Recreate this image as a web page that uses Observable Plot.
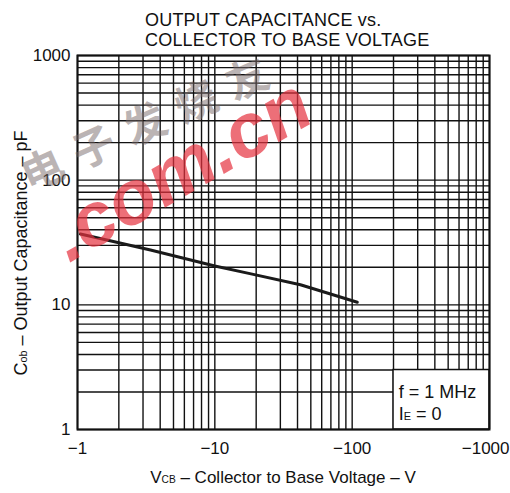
<!DOCTYPE html>
<html>
<head>
<meta charset="utf-8">
<script src="https://cdn.jsdelivr.net/npm/d3@7"></script>
<script src="https://cdn.jsdelivr.net/npm/@observablehq/plot@0.6"></script>
<style>
  html, body { margin: 0; padding: 0; background: #fff; }
  #wrap { position: relative; width: 510px; height: 493px; overflow: hidden; font-family: "Liberation Sans", Arial, sans-serif; color: #111; }
  #chart { position: absolute; left: 0; top: 0; }
  .title { position: absolute; left: 145px; top: 10px; font-size: 18px; line-height: 20px; white-space: nowrap; letter-spacing: 0.2px; }
  .xlabel { position: absolute; left: 83px; width: 400px; top: 468px; text-align: center; font-size: 17px; line-height: 20px; white-space: nowrap; }
  .ylabel { position: absolute; left: -129px; width: 300px; top: 243px; text-align: center; font-size: 18px; line-height: 20px; white-space: nowrap; transform: rotate(-90deg); transform-origin: 150px 10px; }
  .sm { font-size: 0.6em; }
  .wm { position: absolute; white-space: nowrap; pointer-events: none; transform-origin: center center; }
  .wm1 { left: 0px; top: 88px; width: 300px; text-align: center; font-family: "Noto Sans CJK SC", sans-serif; font-weight: bold; font-size: 42px; letter-spacing: 14px; color: rgba(120, 105, 105, 0.5); transform: rotate(-24deg); }
  .wm2 { left: 30px; top: 124px; width: 300px; text-align: center; font-family: "Liberation Sans", Arial, sans-serif; font-weight: bold; font-style: italic; font-size: 76px; line-height: 90px; color: rgba(230, 50, 62, 0.7); transform: rotate(-30deg); }
</style>
</head>
<body>
<div id="wrap">
  <div id="chart"></div>
  <div class="title">OUTPUT CAPACITANCE vs.<br>COLLECTOR TO BASE VOLTAGE</div>
  <div class="ylabel">C<span class="sm">ob</span> – Output Capacitance – pF</div>
  <div class="xlabel">V<span class="sm">CB</span> – Collector to Base Voltage – V</div>
  <div class="wm wm1">电子发烧友</div>
  <div class="wm wm2">.com.cn</div>
</div>
<script>
// ---- data ----
const xTicks = [1, 10, 100];
const xTickLast = [1000];
const yTicks = [1, 10, 100, 1000];
const gridX = [1, 2, 3, 4, 5, 6, 7, 8, 9, 10, 20, 30, 40, 50, 60, 70, 80, 90, 100, 200, 300, 400, 500, 600, 700, 800, 900, 1000];
const gridY = [1, 2, 3, 4, 5, 6, 7, 8, 9, 10, 20, 30, 40, 50, 60, 70, 80, 90, 100, 200, 300, 400, 500, 600, 700, 800, 900, 1000];
const vcb = [1.05, 2, 3.4, 10, 18, 42, 109];      // |V_CB| in volts
const cob = [37, 31.5, 27.5, 20.5, 17.8, 14.5, 10.5]; // pF
const boxX = [200, 1000];
const boxY = [1, 3];
const legendText = ["f = 1 MHz", "IE = 0"];
const legendY = [1.98, 1.32];
const legendX = 218;

const curve = vcb.map((v, i) => ({ v, c: cob[i] }));

const chart = Plot.plot({
  width: 510,
  height: 493,
  marginTop: 55,
  marginBottom: 64,
  marginLeft: 77,
  marginRight: 21,
  style: { fontFamily: "'Liberation Sans', Arial, sans-serif", fontSize: "17px", background: "transparent", color: "#111" },
  x: { type: "log", domain: [1, 1000] },
  y: { type: "log", domain: [1, 1000] },
  marks: [
    Plot.ruleX(gridX, { x: d => d, stroke: "#111", strokeWidth: 1.4 }),
    Plot.ruleY(gridY, { y: d => d, stroke: "#111", strokeWidth: 1.4 }),
    Plot.rect([0], { x1: () => boxX[0], x2: () => boxX[1], y1: () => boxY[0], y2: () => boxY[1], fill: "white", stroke: "#111", strokeWidth: 1.5 }),
    Plot.text(legendText, { x: () => legendX, y: (d, i) => legendY[i], text: d => d, textAnchor: "start", fontSize: 18, fill: "#111", className: "legend" }),
    Plot.line(curve, { x: "v", y: "c", stroke: "#1a1a1a", strokeWidth: 3 }),
    Plot.frame({ stroke: "#111", strokeWidth: 2 }),
    Plot.axisX(xTicks, { tickSize: 0, tickPadding: 12, tickFormat: d => "−" + d, label: null, fontSize: 17 }),
    Plot.axisX(xTickLast, { tickSize: 0, tickPadding: 12, tickFormat: d => "−" + d, label: null, fontSize: 17, textAnchor: "end", dx: 20 }),
    Plot.axisY(yTicks, { tickSize: 0, tickPadding: 7, tickFormat: d => String(d), label: null, fontSize: 17 })
  ]
});
document.getElementById("chart").appendChild(chart);

// subscript E in legend
d3.select(chart).selectAll("g.legend text").each(function () {
  const t = this.textContent;
  if (t.startsWith("IE")) {
    const sel = d3.select(this);
    sel.text("");
    sel.append("tspan").text("I");
    sel.append("tspan").attr("font-size", 11).text("E");
    sel.append("tspan").text(" = 0");
  }
});
</script>
</body>
</html>
